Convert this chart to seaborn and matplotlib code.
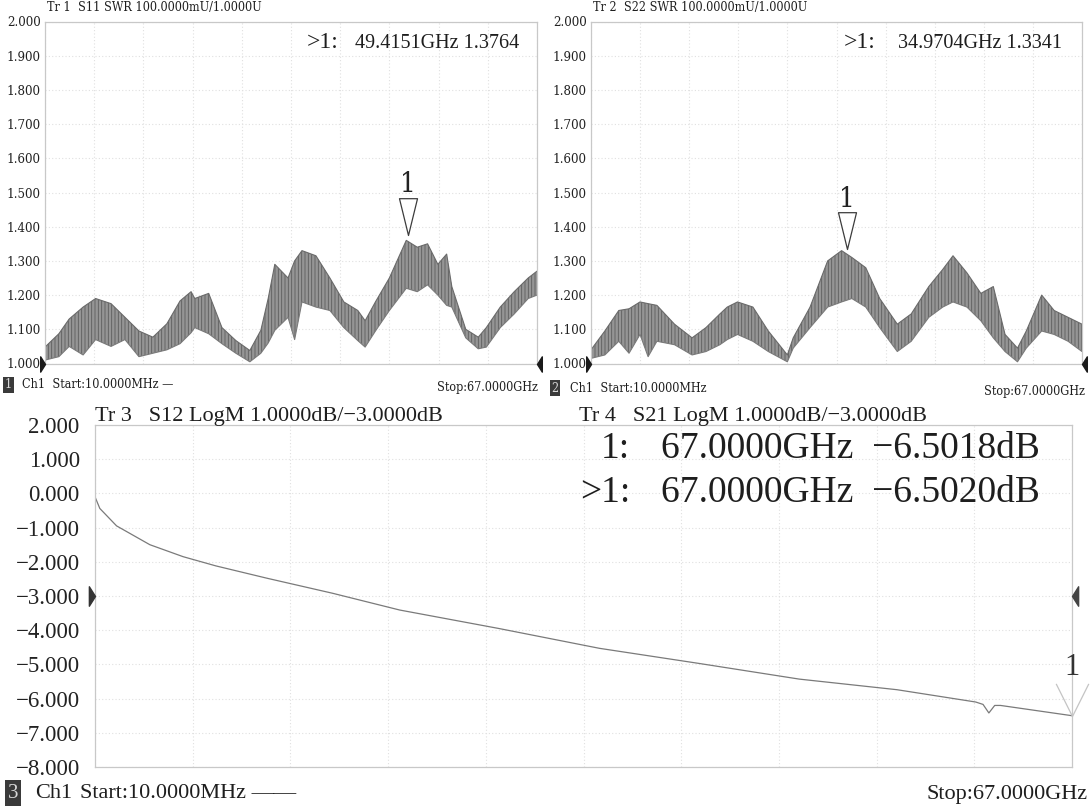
import numpy as np
import pandas as pd
import matplotlib
matplotlib.use("Agg")
import matplotlib.pyplot as plt
import seaborn as sns
from matplotlib.path import Path

sns.set_theme(style="white")
plt.rcParams['font.family'] = ['Liberation Serif', 'DejaVu Serif']
plt.rcParams['hatch.linewidth'] = 0.6

W, H = 1092, 806

# ---------------- data ----------------
s11_freq = [0.01, 1.9, 3.3, 5.2, 6.9, 9.0, 10.9, 12.8, 14.7, 16.6, 18.4, 19.9, 20.4, 22.3, 24.1,
            26.0, 27.9, 29.4, 30.4, 31.3, 33.1, 34.0, 35.0, 36.9, 38.8, 40.7, 42.6, 43.6, 45.0,
            46.9, 49.2, 50.7, 52.1, 53.5, 54.7, 55.4, 57.3, 59.0, 60.1, 62.0, 63.9, 65.8, 67.0]
s11_upper = [1.048, 1.087, 1.130, 1.165, 1.190, 1.175, 1.135, 1.095, 1.077, 1.116, 1.183, 1.210, 1.190,
             1.205, 1.105, 1.067, 1.038, 1.097, 1.190, 1.290, 1.250, 1.300, 1.330, 1.315, 1.250, 1.180,
             1.155, 1.125, 1.180, 1.250, 1.360, 1.340, 1.350, 1.290, 1.320, 1.225, 1.100, 1.077, 1.105,
             1.165, 1.210, 1.250, 1.270]
s11_lower = [1.010, 1.020, 1.050, 1.025, 1.070, 1.050, 1.070, 1.020, 1.030, 1.040, 1.058, 1.090, 1.105,
             1.087, 1.058, 1.030, 1.005, 1.030, 1.060, 1.097, 1.135, 1.070, 1.180, 1.165, 1.155, 1.105,
             1.067, 1.048, 1.095, 1.155, 1.220, 1.210, 1.230, 1.200, 1.170, 1.165, 1.075, 1.043, 1.048,
             1.105, 1.145, 1.190, 1.200]

s22_freq = [0.01, 1.9, 3.8, 5.2, 6.7, 7.8, 9.0, 11.4, 13.8, 15.7, 17.6, 18.6, 20.0, 22.1, 24.2, 26.8,
            27.6, 29.9, 32.3, 34.2, 35.6, 37.5, 39.4, 41.8, 43.7, 46.1, 48.0, 49.4, 51.3, 53.2, 54.9,
            56.5, 58.2, 59.4, 61.5, 63.2, 65.1, 67.0]
s22_upper = [1.040, 1.095, 1.155, 1.160, 1.180, 1.175, 1.170, 1.115, 1.075, 1.105, 1.145, 1.165, 1.180,
             1.165, 1.095, 1.025, 1.075, 1.165, 1.300, 1.330, 1.310, 1.280, 1.190, 1.115, 1.145, 1.225,
             1.275, 1.315, 1.265, 1.205, 1.225, 1.085, 1.045, 1.095, 1.200, 1.155, 1.135, 1.115]
s22_lower = [1.015, 1.025, 1.065, 1.030, 1.085, 1.020, 1.065, 1.055, 1.025, 1.035, 1.055, 1.070, 1.085,
             1.065, 1.035, 1.005, 1.045, 1.105, 1.165, 1.180, 1.190, 1.165, 1.105, 1.035, 1.065, 1.135,
             1.165, 1.180, 1.165, 1.125, 1.075, 1.035, 1.005, 1.045, 1.095, 1.085, 1.065, 1.035]

s21_freq = [0.01, 0.34, 1.49, 3.77, 6.05, 8.3, 11.8, 16.3, 20.9, 27.7, 34.6, 41.4, 48.3, 55.0,
            60.4, 60.9, 61.3, 61.7, 62.1, 67.0]
s21_db = [-0.10, -0.44, -0.95, -1.50, -1.85, -2.12, -2.48, -2.92, -3.41, -3.95, -4.53, -4.97, -5.43,
          -5.74, -6.10, -6.17, -6.42, -6.20, -6.20, -6.50]

swr_ticks = [1.0, 1.1, 1.2, 1.3, 1.4, 1.5, 1.6, 1.7, 1.8, 1.9, 2.0]
db_ticks = [-8, -7, -6, -5, -4, -3, -2, -1, 0, 1, 2]

s11_marker = (49.4151, 1.3764)
s22_marker = (34.9704, 1.3341)
s21_marker = (67.0, -6.5020)

f_start, f_stop = 0.01, 67.0

# ---------------- helpers ----------------
def rect(x0, y0, x1, y1):
    return [x0 / W, 1 - y1 / H, (x1 - x0) / W, (y1 - y0) / H]

def fx(x):
    return x / W

def fy(y):
    return 1 - y / H

fig = plt.figure(figsize=(W / 100, H / 100), dpi=100)
fig.patch.set_facecolor("white")

grid_kw = dict(color="#e0e0e0", linestyle=(0, (1, 2)), linewidth=0.8)

tri_down = Path([(-0.245, 1.0), (0.245, 1.0), (0.0, 0.0), (-0.245, 1.0)],
                [Path.MOVETO, Path.LINETO, Path.LINETO, Path.CLOSEPOLY])
vee = Path([(-0.5, 1.0), (0.0, 0.0), (0.5, 1.0)], [Path.MOVETO, Path.LINETO, Path.LINETO])
ref_right = Path([(-0.63, 1.0), (0.0, 0.0), (-0.63, -1.0), (-0.63, 1.0)],
                 [Path.MOVETO, Path.LINETO, Path.LINETO, Path.CLOSEPOLY])
ref_left = Path([(0.63, 1.0), (0.0, 0.0), (0.63, -1.0), (0.63, 1.0)],
                [Path.MOVETO, Path.LINETO, Path.LINETO, Path.CLOSEPOLY])

small = dict(family="DejaVu Serif", fontstretch="condensed")


def style_axes(ax, yticks, ylim, fmt, fs, pad, fprops=None):
    ax.set_xlim(f_start, f_stop)
    ax.set_ylim(*ylim)
    ax.set_yticks(yticks)
    ax.set_yticklabels([fmt(v) for v in yticks], fontsize=fs, color="#222222", **(fprops or {}))
    ax.set_xticks(np.linspace(f_start, f_stop, 11))
    ax.set_xticklabels([])
    ax.tick_params(axis="both", length=0, pad=pad)
    ax.grid(True, **grid_kw)
    ax.set_xlabel("")
    ax.set_ylabel("")
    for s in ax.spines.values():
        s.set_color("#c8c8c8")
        s.set_linewidth(0.9)
    ax.set_facecolor("white")


def swr_panel(rect_px, freq, upper, lower, marker):
    ax = fig.add_axes(rect(*rect_px))
    df = pd.DataFrame({"f": freq, "up": upper, "lo": lower})
    ax.fill_between(df["f"], df["lo"], df["up"], facecolor="#959595", edgecolor="#5c5c5c",
                    hatch="|||||", linewidth=0)
    sns.lineplot(data=df, x="f", y="up", ax=ax, color="#6a6a6a", linewidth=0.8)
    sns.lineplot(data=df, x="f", y="lo", ax=ax, color="#7a7a7a", linewidth=0.8)
    style_axes(ax, swr_ticks, (1.0, 2.0), lambda v: f"{v:.3f}", 9.5, 3, small)
    ax.plot([marker[0]], [marker[1]], marker=tri_down, ms=53, mfc="white", mec="#3c3c3c",
            mew=0.9, linestyle="none", zorder=5)
    ax.annotate("1", xy=marker, xytext=(0, 36), textcoords="offset points", ha="center",
                va="center", fontsize=20, color="#222222", **small)
    ax.plot([f_start], [1.0], marker=ref_right, ms=11, color="#1a1a1a", clip_on=False,
            linestyle="none", zorder=6)
    ax.plot([f_stop], [1.0], marker=ref_left, ms=11, color="#1a1a1a", clip_on=False,
            linestyle="none", zorder=6)
    return ax


ax1 = swr_panel((45, 21.5, 537, 363.5), s11_freq, s11_upper, s11_lower, s11_marker)
ax2 = swr_panel((591, 21.5, 1082, 363.5), s22_freq, s22_upper, s22_lower, s22_marker)

# bottom panel
ax3 = fig.add_axes(rect(95, 425, 1072, 767))
df21 = pd.DataFrame({"f": s21_freq, "db": s21_db})
sns.lineplot(data=df21, x="f", y="db", ax=ax3, color="#7a7a7a", linewidth=0.9)
style_axes(ax3, db_ticks, (-8, 2), lambda v: f"{v:.3f}".replace("-", "\u2212"), 16.5, 11)
ax3.plot([s21_marker[0]], [s21_marker[1]], marker=vee, ms=47, mfc="none", mec="#c4c4c4",
         mew=0.9, linestyle="none", clip_on=False, zorder=5)
ax3.annotate("1", xy=s21_marker, xytext=(0, 35), textcoords="offset points", ha="center",
             va="center", fontsize=22, color="#333333", annotation_clip=False)
ax3.plot([f_start], [-3.0], marker=ref_right, ms=14, color="#333333", clip_on=False,
         linestyle="none", zorder=6)
ax3.plot([f_stop], [-3.0], marker=ref_left, ms=14, color="#444444", clip_on=False,
         linestyle="none", zorder=6)

# ---------------- texts ----------------
tc = "#1e1e1e"
fig.text(fx(47), fy(8), "Tr 1  S11 SWR 100.0000mU/1.0000U", fontsize=9, va="center", color=tc, **small)
fig.text(fx(593), fy(8), "Tr 2  S22 SWR 100.0000mU/1.0000U", fontsize=9, va="center", color=tc, **small)
fig.text(fx(307), fy(43), ">1:", fontsize=17, va="center", color=tc)
fig.text(fx(519), fy(43), "49.4151GHz 1.3764", fontsize=14.5, va="center", ha="right", color=tc)
fig.text(fx(844), fy(43), ">1:", fontsize=17, va="center", color=tc)
fig.text(fx(1062), fy(43), "34.9704GHz 1.3341", fontsize=14.5, va="center", ha="right", color=tc)

box = dict(boxstyle="square,pad=0.15", facecolor="#3a3a3a", edgecolor="none")
fig.text(fx(8.5), fy(385), "1", fontsize=9, va="center", ha="center", color="#d8d8d8", bbox=box, **small)
fig.text(fx(22), fy(385), "Ch1  Start:10.0000MHz \u2014", fontsize=9, va="center", color=tc, **small)
fig.text(fx(538), fy(388), "Stop:67.0000GHz", fontsize=9, va="center", ha="right", color=tc, **small)
fig.text(fx(555), fy(388), "2", fontsize=9, va="center", ha="center", color="#d8d8d8", bbox=box, **small)
fig.text(fx(570), fy(388), "Ch1  Start:10.0000MHz", fontsize=9, va="center", color=tc, **small)
fig.text(fx(1085), fy(391), "Stop:67.0000GHz", fontsize=9, va="center", ha="right", color=tc, **small)

fig.text(fx(95), fy(416), "Tr 3   S12 LogM 1.0000dB/\u22123.0000dB", fontsize=16, va="center", color=tc)
fig.text(fx(579), fy(416), "Tr 4   S21 LogM 1.0000dB/\u22123.0000dB", fontsize=16, va="center", color=tc)

fig.text(fx(630), fy(449), "1:", fontsize=27, va="center", ha="right", color=tc)
fig.text(fx(1040), fy(449), "67.0000GHz  \u22126.5018dB", fontsize=27, va="center", ha="right", color=tc)
fig.text(fx(630), fy(493), ">1:", fontsize=27, va="center", ha="right", color=tc)
fig.text(fx(1040), fy(493), "67.0000GHz  \u22126.5020dB", fontsize=27, va="center", ha="right", color=tc)

box3 = dict(boxstyle="square,pad=0.15", facecolor="#3a3a3a", edgecolor="none")
fig.text(fx(13), fy(793), "3", fontsize=15, va="center", ha="center", color="#d8d8d8", bbox=box3)
fig.text(fx(35), fy(794), "Ch1", fontsize=16, va="center", color=tc)
fig.text(fx(80), fy(794), "Start:10.0000MHz \u2014\u2014", fontsize=16, va="center", color=tc)
fig.text(fx(1088), fy(794), "Stop:67.0000GHz", fontsize=16, va="center", ha="right", color=tc)

fig.savefig("out.png", dpi=100, facecolor="white")
